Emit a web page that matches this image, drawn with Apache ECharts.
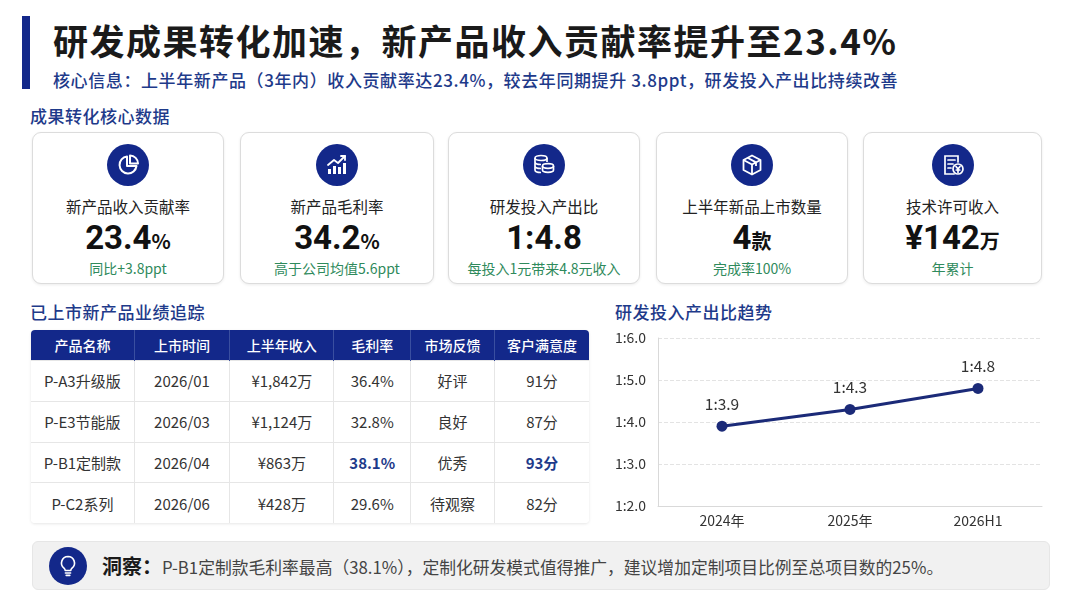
<!DOCTYPE html>
<html><head><meta charset="utf-8">
<script src="https://cdn.jsdelivr.net/npm/echarts@6/dist/echarts.min.js"></script>
<style>
html,body{margin:0;padding:0;background:#fff;}
body{width:1080px;height:608px;position:relative;overflow:hidden;font-family:"Noto Sans CJK SC","Noto Sans",sans-serif;color:#222;}
.abs{position:absolute;}
#bar{left:22px;top:16px;width:8px;height:73px;background:#13288a;}
#title{left:53px;top:16px;font-size:35px;font-weight:700;letter-spacing:1.5px;line-height:48px;color:#1a1a1a;white-space:nowrap;}
#sub{left:53px;top:68px;font-size:17px;font-weight:500;letter-spacing:0.6px;line-height:24px;color:#1e3a8a;white-space:nowrap;}
.sec{font-size:17px;font-weight:500;color:#1e3a8a;line-height:24px;white-space:nowrap;letter-spacing:0.5px;}
.card{top:132px;height:152px;border:1px solid #dcdcdc;border-radius:9px;background:#fff;box-shadow:0 1px 3px rgba(0,0,0,0.08);box-sizing:border-box;}
.card .ic{position:absolute;left:50%;top:11px;width:42px;height:42px;margin-left:-21px;border-radius:50%;background:#13288a;}
.card .ic svg{position:absolute;left:9px;top:9px;width:24px;height:24px;}
.card .lb{position:absolute;left:0;right:0;top:62px;text-align:center;font-size:15.5px;line-height:22px;color:#222;}
.card .val{position:absolute;left:0;right:0;top:84px;text-align:center;font-size:33px;font-weight:700;line-height:42px;color:#111;font-family:"Roboto","Noto Sans CJK SC",sans-serif;}
.card .val span{font-size:20px;font-weight:700;font-family:"Noto Sans CJK SC",sans-serif;}
.card .st{position:absolute;left:0;right:0;top:125px;text-align:center;font-size:14px;line-height:20px;color:#2f8a5c;}
#tbl{left:31px;top:330px;width:558px;border-collapse:collapse;box-shadow:0 1px 3px rgba(0,0,0,0.10);border-radius:4px;overflow:hidden;}
#tbl th{background:#13288a;color:#fff;font-weight:500;font-size:14px;height:30px;padding:0;border-right:1px solid #3a4fa0;}
#tbl td{height:39.8px;padding:0;text-align:center;font-size:15px;color:#333;border-top:1px solid #e6e6e6;border-right:1px solid #e6e6e6;background:#fff;}
#tbl th:last-child,#tbl td:last-child{border-right:none;}
#tbl td.hl{color:#1e3a8a;font-weight:700;}
#chart{left:600px;top:325px;width:460px;height:212px;}
#ins{left:32px;top:541px;width:1018px;height:49px;background:#f1f1f1;border-radius:6px;border:1px solid #e6e6e6;box-sizing:border-box;}
#ins .ic{position:absolute;left:16px;top:5px;width:38px;height:38px;border-radius:50%;background:#13288a;}
#ins .ic svg{position:absolute;left:9px;top:8px;width:20px;height:22px;}
#ins .tx{position:absolute;left:69px;top:11px;font-size:16.8px;line-height:26px;color:#444;white-space:nowrap;}
#ins .tx b{font-size:20px;color:#1a1a1a;}
</style></head>
<body>
<div class="abs" id="bar"></div>
<div class="abs" id="title">研发成果转化加速，新产品收入贡献率提升至23.4%</div>
<div class="abs" id="sub">核心信息：上半年新产品（3年内）收入贡献率达23.4%，较去年同期提升 3.8ppt，研发投入产出比持续改善</div>
<div class="abs sec" style="left:30px;top:104px;">成果转化核心数据</div>
<div id="cards"></div>
<div class="abs sec" style="left:30px;top:300px;">已上市新产品业绩追踪</div>
<table class="abs" id="tbl"></table>
<div class="abs sec" style="left:615px;top:300px;">研发投入产出比趋势</div>
<div class="abs" id="chart"></div>
<div class="abs" id="ins">
  <div class="ic"><svg viewBox="0 0 20 22" fill="none" stroke="#fff" stroke-width="1.6" stroke-linecap="round" stroke-linejoin="round"><path d="M10 1.5a6.5 6.5 0 0 0-4 11.6c.8.7 1.2 1.5 1.2 2.4h5.6c0-.9.4-1.7 1.2-2.4A6.5 6.5 0 0 0 10 1.5z"/><path d="M7.4 18h5.2M8.2 20.4h3.6"/></svg></div>
  <div class="tx"><b>洞察：</b>P-B1定制款毛利率最高（38.1%），定制化研发模式值得推广，建议增加定制项目比例至总项目数的25%。</div>
</div>
<script>
// ---- data ----
var cardLabels = ["新产品收入贡献率","新产品毛利率","研发投入产出比","上半年新品上市数量","技术许可收入"];
var cardValues = ["23.4","34.2","1:4.8","4","¥142"];
var cardUnits = ["%","%","","款","万"];
var cardNotes = ["同比+3.8ppt","高于公司均值5.6ppt","每投入1元带来4.8元收入","完成率100%","年累计"];
var tableHeader = ["产品名称","上市时间","上半年收入","毛利率","市场反馈","客户满意度"];
var productNames = ["P-A3升级版","P-E3节能版","P-B1定制款","P-C2系列"];
var launchDates = ["2026/01","2026/03","2026/04","2026/06"];
var revenues = ["¥1,842万","¥1,124万","¥863万","¥428万"];
var margins = ["36.4%","32.8%","38.1%","29.6%"];
var feedback = ["好评","良好","优秀","待观察"];
var satisfaction = ["91分","87分","93分","82分"];
var trendCategories = ["2024年","2025年","2026H1"];
var trendValues = [3.9, 4.3, 4.8];
var yTicks = [2, 3, 4, 5, 6];

var icons = [
 '<svg viewBox="0 0 24 24" fill="none" stroke="#fff" stroke-width="2" stroke-linejoin="round"><path d="M11 3.5a8.5 8.5 0 1 0 9.5 9.5H11z"/><path d="M14 2.5v8h8a8 8 0 0 0-8-8z"/></svg>',
 '<svg viewBox="0 0 24 24" fill="#fff" stroke="#fff" stroke-width="1.8" stroke-linecap="round" stroke-linejoin="round"><rect x="3" y="16" width="3" height="5" stroke="none"/><rect x="8" y="13" width="3" height="8" stroke="none"/><rect x="13" y="14" width="3" height="7" stroke="none"/><rect x="18" y="10" width="3" height="11" stroke="none"/><polyline fill="none" points="3,12 9,7 13,10 20,3"/><polyline fill="none" points="16,3 20,3 20,7"/></svg>',
 '<svg viewBox="0 0 24 24" fill="none" stroke="#fff" stroke-width="1.7"><ellipse cx="9" cy="5" rx="6" ry="2.5"/><path d="M3 5v4c0 1.4 2.7 2.5 6 2.5M3 9v4c0 1.4 2.7 2.5 6 2.5M3 13v4c0 1.4 2.7 2.5 6 2.5M15 5v4"/><ellipse cx="16" cy="13" rx="5.5" ry="2.3"/><path d="M10.5 13v4c0 1.3 2.5 2.3 5.5 2.3s5.5-1 5.5-2.3v-4"/></svg>',
 '<svg viewBox="0 0 24 24" fill="none" stroke="#fff" stroke-width="1.8" stroke-linejoin="round"><path d="M12 2.5l8.5 4.5v10L12 21.5 3.5 17V7z"/><path d="M3.5 7L12 11.5 20.5 7M12 11.5v10M7.5 4.8l8.5 4.6v3.5"/></svg>',
 '<svg viewBox="0 0 24 24" fill="none" stroke="#fff" stroke-width="1.7" stroke-linecap="round"><path d="M17 9V3H4v18h9"/><path d="M7 7h7M7 11h5M7 15h3"/><circle cx="17" cy="16" r="5"/><path d="M15 13.5l2 2.5 2-2.5M17 16v3.5M15.3 17h3.4"/></svg>'
];

// ---- cards ----
var cardLeft = [32, 240, 448, 656, 863];
var cardWidth = [192, 194, 192, 192, 179];
var cardsHtml = "";
for (var i = 0; i < cardLabels.length; i++) {
  cardsHtml += '<div class="abs card" style="left:' + cardLeft[i] + 'px;width:' + cardWidth[i] + 'px;">' +
    '<div class="ic">' + icons[i] + '</div>' +
    '<div class="lb">' + cardLabels[i] + '</div>' +
    '<div class="val">' + cardValues[i] + '<span>' + cardUnits[i] + '</span></div>' +
    '<div class="st">' + cardNotes[i] + '</div></div>';
}
document.getElementById("cards").innerHTML = cardsHtml;

// ---- table ----
var colW = [104, 95, 104, 76, 84, 95];
var th = "<tr>";
for (var c = 0; c < tableHeader.length; c++) th += '<th style="width:' + colW[c] + 'px">' + tableHeader[c] + '</th>';
th += "</tr>";
var rows = "";
var maxIdx = 2;
for (var r = 0; r < productNames.length; r++) {
  var hl = (r === maxIdx) ? ' class="hl"' : '';
  rows += "<tr><td>" + productNames[r] + "</td><td>" + launchDates[r] + "</td><td>" + revenues[r] +
    "</td><td" + hl + ">" + margins[r] + "</td><td>" + feedback[r] + "</td><td" + hl + ">" + satisfaction[r] + "</td></tr>";
}
document.getElementById("tbl").innerHTML = th + rows;

// ---- line chart ----
var chart = echarts.init(document.getElementById("chart"));
var navy = "#1b2a78";
chart.setOption({
  animation: false,
  grid: { left: 58, right: 18, top: 13, bottom: 31 },
  xAxis: {
    type: "category",
    data: trendCategories,
    boundaryGap: true,
    axisLine: { show: true, lineStyle: { color: "#d9d9d9", width: 1 } },
    axisTick: { show: false },
    axisLabel: { color: "#333", fontSize: 14, margin: 8, fontFamily: "Noto Sans CJK SC" }
  },
  yAxis: {
    type: "value",
    min: yTicks[0],
    max: yTicks[yTicks.length - 1],
    interval: 1,
    axisLine: { show: true, lineStyle: { color: "#d9d9d9", width: 1 } },
    axisTick: { show: false },
    splitLine: { show: true, lineStyle: { color: "#e3e3e3", type: "dashed", width: 1 } },
    axisLabel: { color: "#333", fontSize: 14, margin: 12, fontFamily: "Noto Sans CJK SC",
      formatter: function (v) { return "1:" + v.toFixed(1); } }
  },
  series: [{
    type: "line",
    data: trendValues,
    symbol: "circle",
    symbolSize: 11,
    lineStyle: { color: navy, width: 3 },
    itemStyle: { color: navy },
    label: { show: true, position: "top", distance: 9, color: "#333", fontSize: 15.5, fontFamily: "Noto Sans CJK SC",
      formatter: function (p) { return "1:" + p.value.toFixed(1); } }
  }]
});
</script>
</body></html>
